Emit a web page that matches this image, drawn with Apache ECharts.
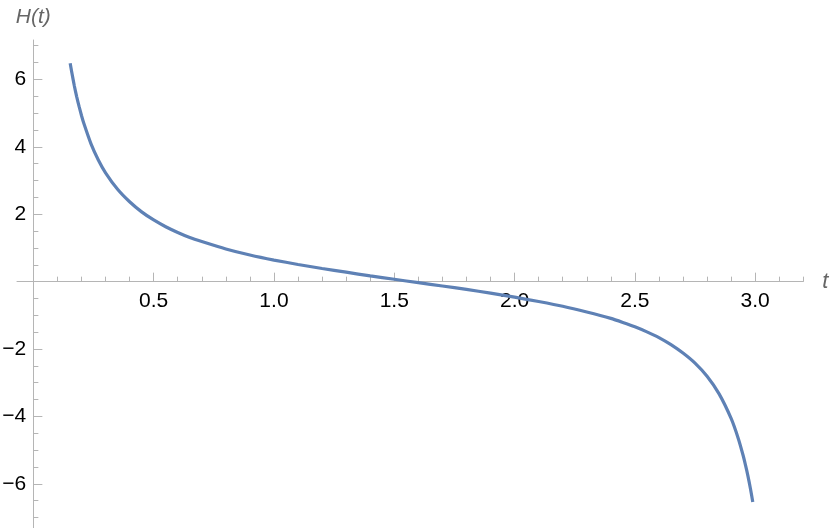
<!DOCTYPE html>
<html>
<head>
<meta charset="utf-8">
<title>H(t)</title>
<script src="https://cdn.jsdelivr.net/npm/echarts@6/dist/echarts.min.js"></script>
<style>
  html, body { margin: 0; padding: 0; background: #fff; }
  #chart { width: 830px; height: 528px; }
</style>
</head>
<body>
<div id="chart"></div>
<script>
// values
var tValues = [0.153, 0.16, 0.17, 0.18, 0.19, 0.20, 0.21, 0.24, 0.27, 0.30, 0.35, 0.40, 0.45, 0.50,
  0.55, 0.60, 0.65, 0.70, 0.80, 0.90, 1.00, 1.10, 1.20, 1.30, 1.40, 1.50, 1.60, 1.70, 1.80, 1.90, 2.00,
  2.10, 2.20, 2.30, 2.40, 2.45, 2.50, 2.55, 2.60, 2.65, 2.70, 2.75, 2.80, 2.85, 2.90, 2.93, 2.95, 2.96, 2.97, 2.98, 2.99];
var hValues = [6.48, 6.20, 5.82, 5.49, 5.20, 4.93, 4.69, 4.08, 3.61, 3.23, 2.74, 2.37, 2.07, 1.83,
  1.63, 1.46, 1.31, 1.19, 0.97, 0.79, 0.64, 0.51, 0.39, 0.28, 0.17, 0.07, -0.03, -0.13, -0.23, -0.34, -0.46,
  -0.59, -0.73, -0.90, -1.09, -1.21, -1.34, -1.49, -1.66, -1.87, -2.12, -2.42, -2.81, -3.33, -4.06, -4.66, -5.16, -5.45, -5.77, -6.13, -6.54];

var xMajor = [0.5, 1.0, 1.5, 2.0, 2.5, 3.0];
var xMinor = [0.1, 0.2, 0.3, 0.4, 0.6, 0.7, 0.8, 0.9, 1.1, 1.2, 1.3, 1.4, 1.6, 1.7, 1.8, 1.9,
  2.1, 2.2, 2.3, 2.4, 2.6, 2.7, 2.8, 2.9, 3.1, 3.2];
var yMajor = [-6, -4, -2, 2, 4, 6];
var yMinor = [-7, -6.5, -5.5, -5, -4.5, -3.5, -3, -2.5, -1.5, -1, -0.5,
  0.5, 1, 1.5, 2.5, 3, 3.5, 4.5, 5, 5.5, 6.5, 7];

var points = [];
for (var i = 0; i < tValues.length; i++) {
  points.push([tValues[i], hValues[i]]);
}

var xMin = -0.068, xMax = 3.2;
var yMin = -7.31, yMax = 7.17;
var axisColor = '#b5b5b5';
var fontFamily = 'Liberation Sans, Arial, sans-serif';
var labelFont = { color: '#000', fontSize: 21, fontFamily: fontFamily };

function numLabel(v) {
  return v < 0 ? '\u2212' + Math.abs(v) : String(v);
}

function hiddenAxis(type, grid) {
  var a = { type: 'value', gridIndex: grid, show: false };
  if (type === 'x') { a.min = xMin; a.max = xMax; } else { a.min = yMin; a.max = yMax; }
  return a;
}

var chart = echarts.init(document.getElementById('chart'));
chart.setOption({
  animation: false,
  grid: [
    // main plot
    { left: 17, right: 26.7, top: 40, bottom: 0, outerBoundsMode: 'none' },
    // x tick labels: bottom edge sits on H = 0
    { left: 17, right: 26.7, top: 40, bottom: 246.5, outerBoundsMode: 'none' },
    // y tick labels: left edge sits on t = 0
    { left: 33.3, right: 26.7, top: 40, bottom: 0, outerBoundsMode: 'none' }
  ],
  xAxis: [{
    type: 'value',
    gridIndex: 0,
    min: xMin,
    max: xMax,
    position: 'bottom',
    axisLine: { onZero: true, lineStyle: { color: axisColor, width: 1 } },
    axisTick: { customValues: xMajor, inside: true, length: 9, lineStyle: { color: axisColor } },
    axisLabel: { show: false },
    splitLine: { show: false },
    name: 't',
    nameLocation: 'end',
    nameGap: 19,
    nameTextStyle: { color: '#666', fontSize: 22, fontStyle: 'italic', fontFamily: fontFamily, verticalAlign: 'middle' }
  }, {
    type: 'value',
    gridIndex: 0,
    min: xMin,
    max: xMax,
    position: 'top',
    axisLine: { show: false, onZero: true },
    axisTick: { customValues: xMinor, inside: false, length: 5, lineStyle: { color: axisColor } },
    axisLabel: { show: false },
    splitLine: { show: false }
  }, {
    type: 'value',
    gridIndex: 1,
    min: xMin,
    max: xMax,
    position: 'bottom',
    axisLine: { show: false, onZero: false },
    axisTick: { show: false },
    axisLabel: Object.assign({
      customValues: xMajor,
      margin: 9,
      formatter: function (v) { return v.toFixed(1); }
    }, labelFont),
    splitLine: { show: false }
  }, hiddenAxis('x', 2)],
  yAxis: [{
    type: 'value',
    gridIndex: 0,
    min: yMin,
    max: yMax,
    position: 'left',
    axisLine: { onZero: true, lineStyle: { color: axisColor, width: 1 } },
    axisTick: { customValues: yMajor, inside: true, length: 9, lineStyle: { color: axisColor } },
    axisLabel: { show: false },
    splitLine: { show: false },
    name: 'H(t)',
    nameLocation: 'end',
    nameGap: 12,
    nameTextStyle: { color: '#666', fontSize: 21, fontStyle: 'italic', fontFamily: fontFamily }
  }, {
    type: 'value',
    gridIndex: 0,
    min: yMin,
    max: yMax,
    position: 'right',
    axisLine: { show: false, onZero: true },
    axisTick: { customValues: yMinor, inside: false, length: 5, lineStyle: { color: axisColor } },
    axisLabel: { show: false },
    splitLine: { show: false }
  }, hiddenAxis('y', 1), {
    type: 'value',
    gridIndex: 2,
    min: yMin,
    max: yMax,
    position: 'left',
    axisLine: { show: false, onZero: false },
    axisTick: { show: false },
    axisLabel: Object.assign({
      customValues: yMajor,
      margin: 7,
      formatter: numLabel
    }, labelFont),
    splitLine: { show: false }
  }],
  series: [{
    type: 'line',
    data: points,
    xAxisIndex: 0,
    yAxisIndex: 0,
    smooth: 0.2,
    showSymbol: false,
    lineStyle: { color: '#5e81b5', width: 3.2 },
    z: 5
  }]
});
</script>
</body>
</html>
